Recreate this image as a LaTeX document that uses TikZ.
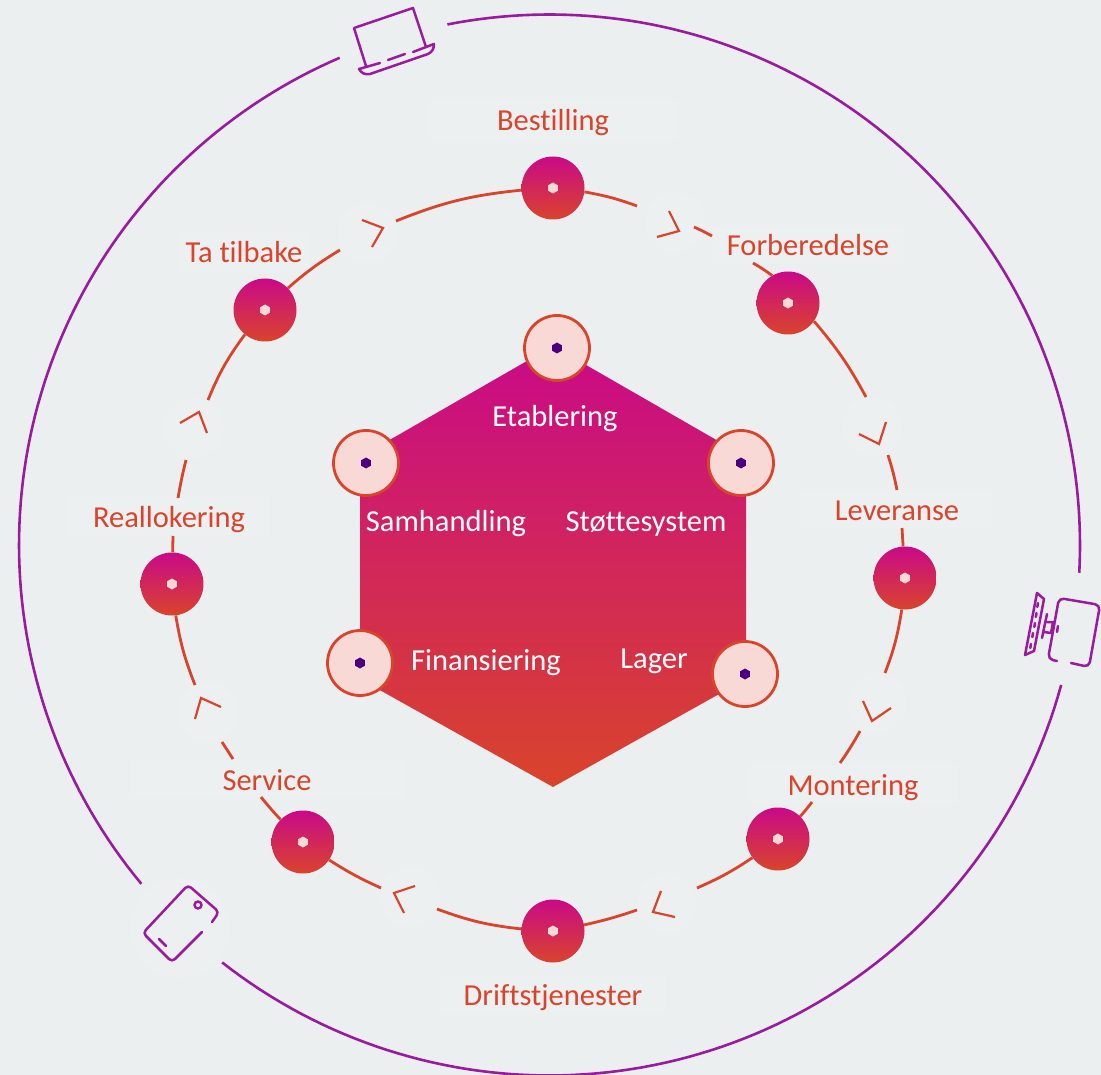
\documentclass[tikz,border=0pt]{standalone}
\usepackage{fontspec}
\setmainfont{Carlito}[Ligatures=NoCommon]
\usetikzlibrary{shapes.geometric}
\definecolor{bgc}{HTML}{EBEFF0}
\definecolor{patchc}{HTML}{ECF0F1}
\definecolor{orng}{HTML}{D9442B}
\definecolor{mag}{HTML}{C90A88}
\definecolor{purp}{HTML}{9A1AA0}
\definecolor{pale}{HTML}{F8D9D5}
\definecolor{deep}{HTML}{4B0082}
\tikzset{
  x=1pt,y=-1pt,
  grad/.style={top color=mag,bottom color=orng},
  stepnode/.style={circle,minimum size=63pt,inner sep=0pt,grad},
  domnode/.style={circle,minimum size=65pt,inner sep=0pt,fill=pale,draw=orng,line width=2.8pt},
  hexw/.style={regular polygon,regular polygon sides=6,shape border rotate=30,minimum size=11pt,inner sep=0pt,fill=pale},
  hexd/.style={regular polygon,regular polygon sides=6,shape border rotate=30,minimum size=11pt,inner sep=0pt,fill=deep},
  ring/.style={draw=orng,line width=2.8pt},
  chev/.style={draw=orng,line width=2.2pt,miter limit=10},
  outer/.style={draw=purp,line width=2.6pt},
  icon/.style={draw=purp,line width=2.5pt,line join=round,line cap=round},
  steplabel/.style={anchor=base,inner sep=0pt,text height=30pt,text depth=8pt,align=center,fill=patchc,text=orng,font=\fontsize{30.5}{33}\selectfont},
  domlabel/.style={anchor=base,inner sep=0pt,text=white,font=\fontsize{30.5}{33}\selectfont},
  halo/.style={circle,fill=patchc,inner sep=0pt,minimum size=60pt},
}
\begin{document}
\begin{tikzpicture}
\useasboundingbox (0,0) rectangle (1101,1075);
\fill[bgc] (0,0) rectangle (1101,1075);
% faint halos
\foreach \n/\p in {h1/{(675,222)},h2/{(872,427)},h3/{(877,703)},h4/{(667,903)},h5/{(410,897)},h6/{(208,712)},h7/{(193,428)},h8/{(367,233)}}
  \node[halo] (\n) at \p {};
\node[halo,minimum size=100pt] (h9) at (180,928) {};
% outer ring
\draw[outer] plot[domain=101.1:-3,samples=90] ({549.5+530.5*cos(\x)},{545-530.5*sin(\x)});
\draw[outer] plot[domain=-15.3:-128.1,samples=90] ({549.5+530.5*cos(\x)},{545-530.5*sin(\x)});
\draw[outer] plot[domain=219.7:113.3,samples=90] ({549.5+530.5*cos(\x)},{545-530.5*sin(\x)});
% labels
\node[steplabel,minimum width=248pt] (lBest) at (553,131) {Bestilling};
\node[steplabel,minimum width=193pt] (lForb) at (808,256) {Forberedelse};
\node[steplabel,minimum width=192pt] (lLev) at (897,520) {Leveranse};
\node[steplabel,minimum width=210pt] (lMont) at (853,795) {Montering};
\node[steplabel,minimum width=225pt] (lDrift) at (553,1005) {Driftstjenester};
\node[steplabel,minimum width=275pt] (lServ) at (267,790) {Service};
\node[steplabel,minimum width=202pt] (lReal) at (169,527) {Reallokering};
\node[steplabel,minimum width=130pt] (lTa) at (244,263) {Ta tilbake};
% hexagon
\shade[grad] (553,346) -- (746,457) -- (746,679) -- (553,787) -- (360,679) -- (360,457) -- cycle;
% free ends of the ring segments
\coordinate (a1) at (637,206);
\coordinate (a2) at (694,227);
\coordinate (a3) at (712,236);
\coordinate (a4) at (753,263);
\coordinate (b1) at (866,397);
\coordinate (b2) at (888,455);
\coordinate (b3) at (897,490);
\coordinate (b4) at (902,528);
\coordinate (c1) at (885,673);
\coordinate (c2) at (860,731);
\coordinate (c3) at (840,763);
\coordinate (c4) at (812,802);
\coordinate (d1) at (697,888);
\coordinate (d2) at (637,910);
\coordinate (e1) at (437,909);
\coordinate (e2) at (381,888);
\coordinate (f1) at (261,797);
\coordinate (f2) at (233,759);
\coordinate (f3) at (222,742);
\coordinate (g1) at (195,685);
\coordinate (g2) at (173,536);
\coordinate (g3) at (178,498);
\coordinate (g4) at (186,460);
\coordinate (i1) at (208,400);
\coordinate (i2) at (340,250);
\coordinate (i3) at (396,221);
% step nodes
\node[stepnode] (nBest) at (553,188) {};
\node[stepnode] (nForb) at (788,303) {};
\node[stepnode] (nLev) at (905,578) {};
\node[stepnode] (nMont) at (778,839) {};
\node[stepnode] (nDrift) at (553,931) {};
\node[stepnode] (nServ) at (303,842) {};
\node[stepnode] (nReal) at (172,584) {};
\node[stepnode] (nTa) at (265,310) {};
% ring segments
\draw[ring] (nBest) to[bend left=5] (a1);
\draw[ring] (a2) to[bend left=2] (a3);
\draw[ring] (a4) to[bend left=3] (nForb.120);
\draw[ring] (nForb.-35) to[bend left=6] (b1);
\draw[ring] (b2) to[bend left=3] (b3);
\draw[ring] (b4) to (nLev);
\draw[ring] (nLev) to[bend left=6] (c1);
\draw[ring] (c2) to[bend left=3] (c3);
\draw[ring] (c4) to[bend left=2] (nMont);
\draw[ring] (nMont) to[bend left=5] (d1);
\draw[ring] (d2) to[bend left=3] (nDrift);
\draw[ring] (nDrift) to[bend left=7] (e1);
\draw[ring] (e2) to[bend left=4] (nServ);
\draw[ring] (nServ) to[bend left=2] (f1);
\draw[ring] (f2) to (f3);
\draw[ring] (g1) to[bend left=6] (nReal);
\draw[ring] (nReal) to (g2);
\draw[ring] (g3) to[bend left=2] (g4);
\draw[ring] (i1) to[bend left=7] (nTa);
\draw[ring] (nTa) to[bend left=5] (i2);
\draw[ring] (i3) to[bend left=8] (nBest);
% chevrons
\draw[chev] (669,211) -- (679,231) -- (657,237);
\draw[chev] (886,422) -- (879,444) -- (859,434);
\draw[chev] (863,701) -- (872,721) -- (891,708);
\draw[chev] (661,891) -- (653,912) -- (675,917);
\draw[chev] (415,886) -- (394,893) -- (404,913);
\draw[chev] (221,707) -- (201,698) -- (195,719);
\draw[chev] (207,433) -- (199,412) -- (180,423);
\draw[chev] (362,220) -- (383,228) -- (372,247);
% inner nodes
\node[domnode] (dEtab) at (557,348) {};
\node[domnode] (dSam) at (366,463) {};
\node[domnode] (dStot) at (741,463) {};
\node[domnode] (dFin) at (360,663) {};
\node[domnode] (dLag) at (745,674) {};
\foreach \n/\p in {xBest/nBest,xForb/nForb,xLev/nLev,xMont/nMont,xDrift/nDrift,xServ/nServ,xReal/nReal,xTa/nTa}
  \node[hexw] (\n) at (\p) {};
\foreach \n/\p in {xEtab/dEtab,xSam/dSam,xStot/dStot,xFin/dFin,xLag/dLag}
  \node[hexd] (\n) at (\p) {};
\node[domlabel] (tEtab) at (555,426) {Etablering};
\node[domlabel] (tSam) at (446,531) {Samhandling};
\node[domlabel] (tStot) at (646,531) {Støttesystem};
\node[domlabel] (tFin) at (486,670) {Finansiering};
\node[domlabel] (tLag) at (654,668) {Lager};
% laptop
\draw[icon] (366,66) -- (354,28) -- (413,8) -- (426,47);
\draw[icon] (380,63) -- (359,69) .. controls (361,73) and (365,75) .. (370,74) -- (428,54) .. controls (432,52) and (434,49) .. (434,44) -- (413,52);
\draw[icon] (388,60) -- (405,54);
% desktop
\draw[icon] (1037,593) -- (1044,599) -- (1034,651) -- (1025,655) -- cycle;
\foreach \u/\v in {1038/603,1036.5/613,1035/623,1033/633,1031/644}
  \draw[icon] (\u,\v) -- ++(-0.7,4);
\draw[icon] (1047,614) -- (1042,638);
\draw[icon] (1047,622) -- (1053,622) -- (1051,633) -- (1044,632);
\draw[icon] (1058,626) -- (1057,632);
\draw[icon,rounded corners=5pt] (1057,661) -- (1048,659) -- (1059,598) -- (1100,605) -- (1089,667) -- (1071,663);
% tablet
\draw[icon,rounded corners=4pt] (212,922) -- (219,912) -- (188,885) -- (143,933) -- (172,962) -- (202,932);
\draw[icon] (198,905) circle[radius=3.5];
\draw[icon] (159,939) -- (166,946);
\end{tikzpicture}
\end{document}
